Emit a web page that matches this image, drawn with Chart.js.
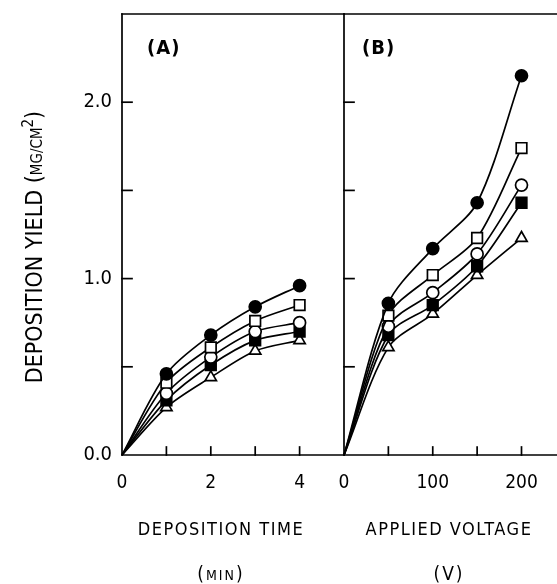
<!DOCTYPE html>
<html>
<head>
<meta charset="utf-8">
<script src="https://cdn.jsdelivr.net/npm/chart.js@4.4.1/dist/chart.umd.min.js"></script>
<style>
  html, body { margin: 0; padding: 0; background: #fff; overflow: hidden; }
  #wrap { position: relative; width: 557px; height: 584px; }
  canvas { position: absolute; top: 0; }
  #chartA { left: 0; }
  #chartB { left: 334px; }
</style>
</head>
<body>
<div id="wrap">
  <canvas id="chartA" width="354" height="584"></canvas>
  <canvas id="chartB" width="223" height="584"></canvas>
</div>
<script>
// ============================================
// Data
// ============================================
const timeMin = [0, 1, 2, 3, 4];
const voltage = [0, 50, 100, 150, 200];

// (A) deposition yield vs deposition time, mg/cm2
const yieldA_filledCircle = [0, 0.46, 0.68, 0.84, 0.96];
const yieldA_openSquare   = [0, 0.41, 0.61, 0.76, 0.85];
const yieldA_openCircle   = [0, 0.35, 0.555, 0.70, 0.75];
const yieldA_filledSquare = [0, 0.31, 0.51, 0.65, 0.70];
const yieldA_openTriangle = [0, 0.27, 0.44, 0.59, 0.65];

// (B) deposition yield vs applied voltage, mg/cm2
const yieldB_filledCircle = [0, 0.86, 1.17, 1.43, 2.15];
const yieldB_openSquare   = [0, 0.79, 1.02, 1.23, 1.74];
const yieldB_openCircle   = [0, 0.73, 0.92, 1.14, 1.53];
const yieldB_filledSquare = [0, 0.68, 0.85, 1.07, 1.43];
const yieldB_openTriangle = [0, 0.61, 0.80, 1.02, 1.23];

const yTickLabels = [0, 1, 2];
const xTickLabelsA = [0, 2, 4];
const xTickLabelsB = [0, 100, 200];

// ============================================
// Styling helpers
// ============================================
const FONT = '"DejaVu Sans Condensed", "DejaVu Sans", sans-serif';
const INK = '#000';

const markerStyles = [
    { style: 'circle',   fill: INK,    radius: 6 },
    { style: 'rect',     fill: '#fff', radius: 7.5 },
    { style: 'circle',   fill: '#fff', radius: 6 },
    { style: 'rect',     fill: INK,    radius: 7.5 },
    { style: 'triangle', fill: '#fff', radius: 6.5 }
];

function makeDatasets(xs, series) {
    return series.map((ys, i) => {
        const m = markerStyles[i];
        return {
            data: xs.map((x, k) => ({ x: x, y: ys[k] })),
            borderColor: INK,
            borderWidth: 1.7,
            tension: 0.3,
            pointStyle: m.style,
            pointRadius: xs.map(x => x === 0 ? 0 : m.radius),
            pointBackgroundColor: m.fill,
            pointBorderColor: INK,
            pointBorderWidth: 1.7,
            clip: false
        };
    });
}

// parens at full size, letters as small caps
function drawMixed(ctx, parts, cx, base, bigPx, smallPx, spacing) {
    ctx.letterSpacing = spacing + 'px';
    let total = 0;
    parts.forEach(p => {
        ctx.font = (p.small ? smallPx : bigPx) + 'px ' + FONT;
        total += ctx.measureText(p.t).width;
    });
    let xx = cx - total / 2;
    ctx.textAlign = 'left';
    parts.forEach(p => {
        ctx.font = (p.small ? smallPx : bigPx) + 'px ' + FONT;
        ctx.fillText(p.t, xx, base - (p.sup ? 9 : 0));
        xx += ctx.measureText(p.t).width;
    });
    ctx.letterSpacing = '0px';
}

// draws the frame, inward ticks, x tick labels and axis titles
const framePlugin = {
    id: 'frame',
    afterDraw(chart, args, o) {
        const { ctx, chartArea: a, scales: { x, y } } = chart;
        ctx.save();
        ctx.strokeStyle = INK;
        ctx.fillStyle = INK;
        ctx.lineWidth = 1.7;
        ctx.lineCap = 'square';

        const line = (x1, y1, x2, y2) => {
            ctx.beginPath();
            ctx.moveTo(x1, y1);
            ctx.lineTo(x2, y2);
            ctx.stroke();
        };

        // frame
        line(a.left, a.top, a.left, a.bottom);
        line(a.left, a.bottom, a.right, a.bottom);
        line(a.left, a.top, a.right, a.top);

        // inward ticks
        o.xTicks.forEach(v => {
            const px = x.getPixelForValue(v);
            line(px, a.bottom, px, a.bottom - 8);
        });
        o.yTicks.forEach(v => {
            const py = y.getPixelForValue(v);
            line(a.left, py, a.left + 10, py);
        });

        // x tick labels
        ctx.font = '19px ' + FONT;
        ctx.textAlign = 'center';
        ctx.textBaseline = 'alphabetic';
        o.xLabels.forEach(v => {
            ctx.fillText(String(v), x.getPixelForValue(v), a.bottom + 33);
        });

        // panel label
        ctx.font = 'bold 20px ' + FONT;
        ctx.letterSpacing = '1px';
        ctx.textAlign = 'left';
        ctx.fillText(o.panel, a.left + o.panelDx, 54);

        // x title, two lines
        ctx.textAlign = 'center';
        ctx.font = '18px ' + FONT;
        ctx.letterSpacing = '1.5px';
        ctx.fillText(o.title, o.titleX, 535);
        drawMixed(ctx, o.unit, o.titleX, 580, 19, 14, 2);

        ctx.restore();
    }
};

// y title along the left edge
const yTitlePlugin = {
    id: 'yTitle',
    afterDraw(chart) {
        const ctx = chart.ctx;
        ctx.save();
        ctx.fillStyle = INK;
        ctx.translate(42, 247);
        ctx.rotate(-Math.PI / 2);
        ctx.textBaseline = 'alphabetic';
        drawMixed(ctx, [
            { t: 'DEPOSITION YIELD (' },
            { t: 'MG/CM', small: true },
            { t: '2', small: true, sup: true },
            { t: ')' }
        ], 0, 0, 23, 15, 0);
        ctx.restore();
    }
};

function baseScales(xMin, xMax, yAxisShown) {
    return {
        x: {
            type: 'linear',
            min: xMin,
            max: xMax,
            afterFit: s => {
                s.height = 129;
                s.paddingLeft = 0;
                s.paddingRight = 0;
            },
            grid: { display: false, drawTicks: false },
            border: { display: false },
            ticks: { display: false }
        },
        y: {
            display: yAxisShown,
            min: 0,
            max: 2.5,
            afterFit: s => {
                if (yAxisShown) s.width = 122;
                s.paddingTop = 0;
                s.paddingBottom = 0;
            },
            afterBuildTicks: s => {
                s.ticks = yTickLabels.map(v => ({ value: v }));
            },
            grid: { display: false, drawTicks: false },
            border: { display: false },
            ticks: {
                color: INK,
                padding: 10,
                callback: v => v.toFixed(1),
                font: { family: FONT, size: 20 }
            }
        }
    };
}

// ============================================
// Panel (A): deposition time
// ============================================
new Chart(document.getElementById('chartA'), {
    type: 'line',
    data: {
        datasets: makeDatasets(timeMin, [
            yieldA_filledCircle, yieldA_openSquare, yieldA_openCircle,
            yieldA_filledSquare, yieldA_openTriangle
        ])
    },
    options: {
        responsive: false,
        animation: false,
        layout: { autoPadding: false, padding: { left: 0, right: 10, top: 14, bottom: 0 } },
        scales: baseScales(0, 5, true),
        plugins: {
            legend: { display: false },
            tooltip: { enabled: false },
            frame: {
                xTicks: [1, 2, 3, 4],
                yTicks: [0.5, 1, 1.5, 2],
                xLabels: xTickLabelsA,
                panel: '(A)',
                panelDx: 25,
                title: 'DEPOSITION TIME',
                titleX: 221,
                unit: [{ t: '(' }, { t: 'MIN', small: true }, { t: ')' }]
            }
        }
    },
    plugins: [framePlugin, yTitlePlugin]
});

// ============================================
// Panel (B): applied voltage
// ============================================
new Chart(document.getElementById('chartB'), {
    type: 'line',
    data: {
        datasets: makeDatasets(voltage, [
            yieldB_filledCircle, yieldB_openSquare, yieldB_openCircle,
            yieldB_filledSquare, yieldB_openTriangle
        ])
    },
    options: {
        responsive: false,
        animation: false,
        layout: { autoPadding: false, padding: { left: 10, right: 0, top: 14, bottom: 0 } },
        scales: baseScales(0, 240, false),
        plugins: {
            legend: { display: false },
            tooltip: { enabled: false },
            frame: {
                xTicks: [50, 100, 150, 200],
                yTicks: [0.5, 1, 1.5, 2],
                xLabels: xTickLabelsB,
                panel: '(B)',
                panelDx: 18,
                title: 'APPLIED VOLTAGE',
                titleX: 115,
                unit: [{ t: '(V)' }]
            }
        }
    },
    plugins: [framePlugin]
});
</script>
</body>
</html>
